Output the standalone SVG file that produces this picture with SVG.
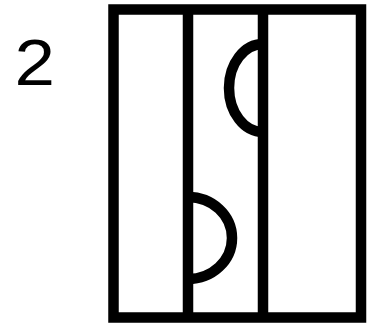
<svg xmlns="http://www.w3.org/2000/svg" width="367" height="330" viewBox="0 0 367 330">
<style>
.ln{fill:none;stroke:#000;stroke-width:10.5;stroke-linecap:butt}
.lbl{font-family:"Liberation Sans",Arial,sans-serif;font-size:65px;fill:#000}
</style>
<rect width="367" height="330" fill="#fff"/>
<g id="label"><text class="lbl" x="0" y="0" transform="translate(14.5,84.5) scale(1.12,1)">2</text></g>
<g id="frame"><rect class="ln" x="113.5" y="9.5" width="247.5" height="308"/></g>
<g id="dividers">
<line class="ln" x1="188" y1="9.5" x2="188" y2="317.5"/>
<line class="ln" x1="263" y1="9.5" x2="263" y2="317.5"/>
</g>
<g id="arcs">
<path class="ln" d="M263,44 A34,44 0 0,0 263,132"/>
<path class="ln" d="M188,197 A44,41 0 0,1 188,279"/>
</g>
</svg>
